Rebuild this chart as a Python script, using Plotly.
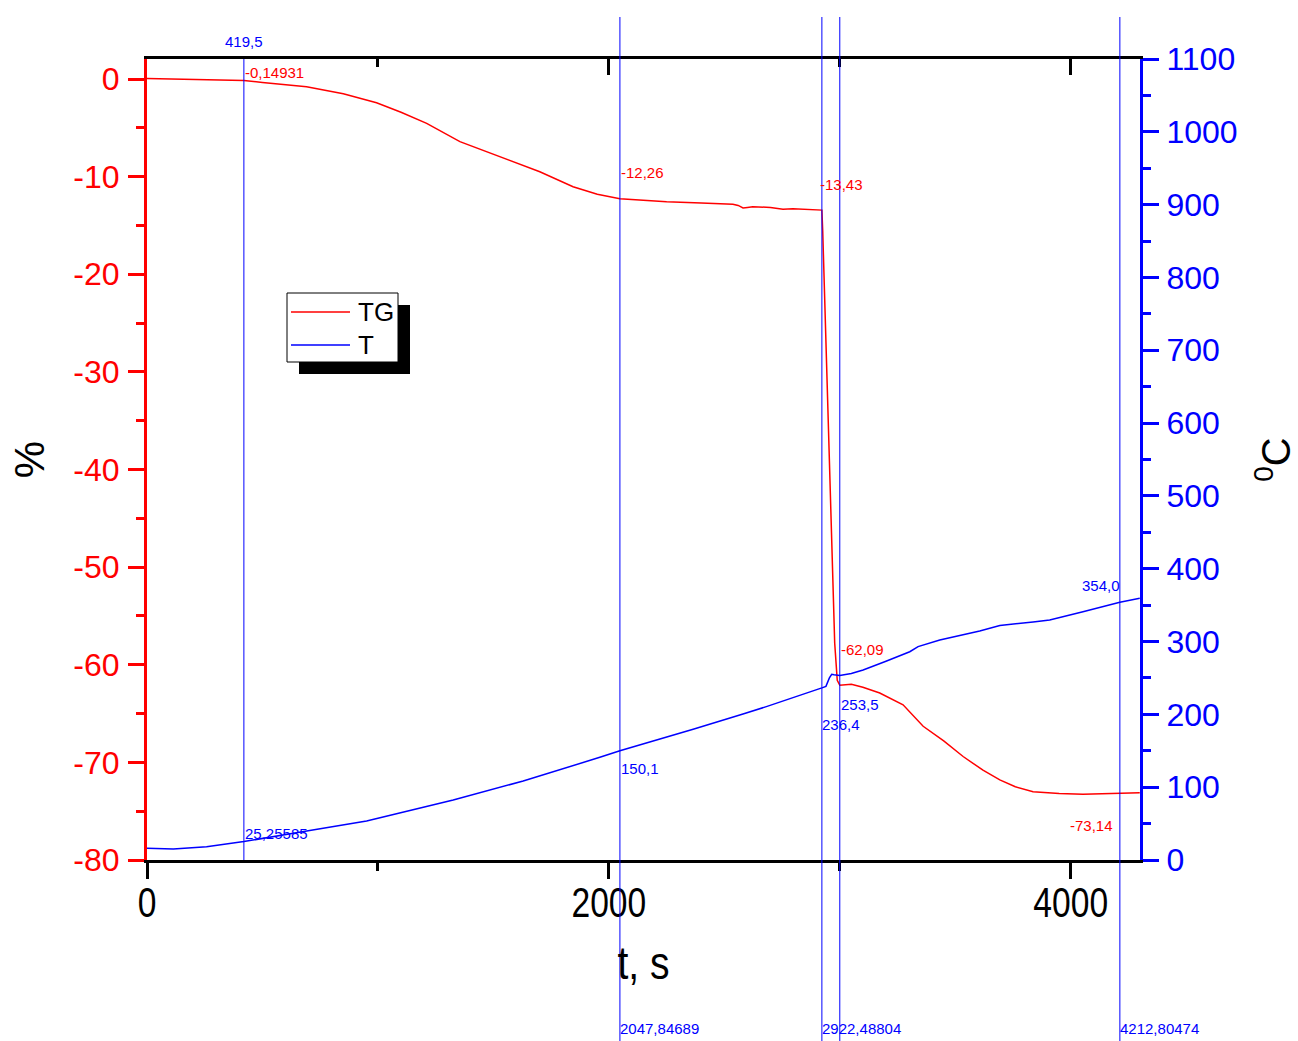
import plotly.graph_objects as go

# ---------------- data ----------------
tg_t = [0, 200, 419.5, 500, 691, 850, 994, 1100, 1211, 1355, 1485, 1600, 1701, 1845, 1950,
        2047.84689, 2250, 2400, 2537, 2560, 2581, 2600, 2623, 2700, 2754, 2797, 2870, 2922.48804,
        2926, 2950, 2968, 2978, 2989, 3000, 3050, 3100, 3173, 3274, 3361, 3450, 3534, 3620,
        3693, 3760, 3837, 3950, 4053, 4150, 4212.80474, 4299]
tg_v = [0.05, -0.05, -0.14931, -0.35, -0.79, -1.5, -2.43, -3.4, -4.54, -6.42, -7.6, -8.6, -9.5, -11.03, -11.8,
        -12.26, -12.56, -12.7, -12.83, -12.95, -13.2, -13.15, -13.08, -13.15, -13.35, -13.28, -13.38, -13.43,
        -15.5, -35.0, -49.3, -57.8, -61.6, -62.09, -62.0, -62.3, -62.9, -64.1, -66.3, -67.8, -69.4, -70.8,
        -71.8, -72.5, -73.0, -73.2, -73.27, -73.2, -73.14, -73.1]

t_t = [0, 114, 258, 419.5, 698, 951, 1009, 1268, 1326, 1629, 1874, 1961, 2047.84689, 2235, 2365, 2581,
       2682, 2922.48804, 2940, 2955, 2965, 2975, 2990, 3000, 3050, 3101, 3200, 3303, 3339, 3433, 3606,
       3693, 3837, 3909, 4053, 4212.80474, 4299]
t_v = [16, 15.1, 18.3, 25.25585, 40.3, 53.6, 58, 78.7, 82.4, 108.5, 131.9, 141, 150.1, 167, 179.5, 200.5,
       210.6, 236.4, 238.5, 250, 255, 254.5, 253.8, 253.5, 256, 261, 273, 286, 293, 302, 314.6,
       321.9, 327, 329.7, 341, 354.0, 359.5]

cursor_t = [419.5, 2047.84689, 2922.48804, 3000, 4212.80474]
cursor_tg = [-0.14931, -12.26, -13.43, -62.09, -73.14]
cursor_T = [25.25585, 150.1, 236.4, 253.5, 354.0]

series_names = ['TG', 'T']
x_ticks = [0, 2000, 4000]
y_left_ticks = [0, -10, -20, -30, -40, -50, -60, -70, -80]
y_right_ticks = list(range(0, 1101, 100))


def fmt(v):
    return str(v).replace('.', ',')


RED = '#ff0000'
BLUE = '#0000ff'
ARIAL = 'Liberation Sans, Arial, sans-serif'

fig = go.Figure()
fig.add_trace(go.Scatter(x=tg_t, y=tg_v, mode='lines', name=series_names[0],
                         line=dict(color=RED, width=1.5), yaxis='y', xaxis='x'))
fig.add_trace(go.Scatter(x=t_t, y=t_v, mode='lines', name=series_names[1],
                         line=dict(color=BLUE, width=1.5), yaxis='y2', xaxis='x'))
fig.add_trace(go.Scatter(x=[None], y=[None], xaxis='x2', yaxis='y', showlegend=False, hoverinfo='skip'))


def px(pix):
    return (pix - 147) / 993.0


def py(pix):
    return (860 - pix) / 801.0


# cursor lines
shapes = []
for i, t in enumerate(cursor_t):
    if i == 0:
        y0, y1 = 0, 1
    else:
        y0, y1 = py(1041), py(17)
    shapes.append(dict(type='line', xref='x', yref='paper', x0=t, x1=t, y0=y0, y1=y1,
                       line=dict(color=BLUE, width=1), layer='above'))

# legend (shadow, box, samples)
shapes.append(dict(type='rect', xref='paper', yref='paper', x0=px(299), x1=px(410), y0=py(374), y1=py(305),
                   fillcolor='black', line=dict(width=0), layer='above'))
shapes.append(dict(type='rect', xref='paper', yref='paper', x0=px(287), x1=px(398), y0=py(362), y1=py(293),
                   fillcolor='white', line=dict(color='black', width=1), layer='above'))
for yy, col in ((312, RED), (345, BLUE)):
    shapes.append(dict(type='line', xref='paper', yref='paper', x0=px(291), x1=px(350), y0=py(yy), y1=py(yy),
                       line=dict(color=col, width=1.5), layer='above'))

ann = []
fs = 15
ann.append(dict(x=cursor_t[0], y=py(42), text=fmt(cursor_t[0]), xanchor='center'))
for i in (1, 2, 4):
    ann.append(dict(x=cursor_t[i], y=py(1028), text=fmt(cursor_t[i]), xanchor='left', xshift=-1))
ann.append(dict(x=cursor_t[0], y=py(72), text=fmt(cursor_tg[0]), xanchor='left', color=RED))
ann.append(dict(x=cursor_t[1], y=py(172), text=fmt(cursor_tg[1]), xanchor='left', color=RED))
ann.append(dict(x=cursor_t[2], y=py(184), text=fmt(cursor_tg[2]), xanchor='left', xshift=-3, color=RED))
ann.append(dict(x=cursor_t[3], y=py(649), text=fmt(cursor_tg[3]), xanchor='left', color=RED))
ann.append(dict(x=cursor_t[4], y=py(825), text=fmt(cursor_tg[4]), xanchor='right', xshift=-6, color=RED))
ann.append(dict(x=cursor_t[0], y=py(833), text=fmt(cursor_T[0]), xanchor='left'))
ann.append(dict(x=cursor_t[1], y=py(768), text=fmt(cursor_T[1]), xanchor='left'))
ann.append(dict(x=cursor_t[2], y=py(724), text=fmt(cursor_T[2]), xanchor='left', xshift=-1))
ann.append(dict(x=cursor_t[3], y=py(704), text=fmt(cursor_T[3]), xanchor='left'))
ann.append(dict(x=cursor_t[4], y=py(585), text=fmt(cursor_T[4]), xanchor='right', xshift=1))

annotations = []
for a in ann:
    col = a.pop('color', BLUE)
    a.update(xref='x', yref='paper', yanchor='middle', showarrow=False,
             font=dict(family=ARIAL, size=fs, color=col), borderpad=0)
    annotations.append(a)

# legend texts
for name, yy in zip(series_names, (312, 345)):
    annotations.append(dict(xref='paper', yref='paper', x=px(357), y=py(yy), text=name,
                            xanchor='left', yanchor='middle', showarrow=False, borderpad=0,
                            font=dict(family=ARIAL, size=26, color='black')))

fig.update_layout(
    width=1298, height=1041,
    margin=dict(l=147, r=158, t=59, b=181, pad=0, autoexpand=False),
    paper_bgcolor='white', plot_bgcolor='white',
    showlegend=False,
    xaxis=dict(range=[0, 4300], tickvals=x_ticks, ticktext=[str(v) for v in x_ticks], automargin=False,
               ticks='outside', ticklen=16, tickwidth=3, tickcolor='black',
               showline=True, linewidth=3, linecolor='black', showgrid=False, zeroline=False,
               minor=dict(dtick=1000, tick0=0, ticks='outside', ticklen=8, tickwidth=3, tickcolor='black', showgrid=False),
               tickfont=dict(family=ARIAL, size=42, color='black'), ticklabelstandoff=-12,
               title=dict(text='t, s', font=dict(family=ARIAL, size=46, color='black'), standoff=22)),
    xaxis2=dict(range=[0, 4300], overlaying='x', side='top', anchor='y', automargin=False,
                tickvals=x_ticks, showticklabels=False,
                ticks='inside', ticklen=16, tickwidth=3, tickcolor='black',
                showline=True, linewidth=3, linecolor='black', showgrid=False, zeroline=False,
                minor=dict(dtick=1000, tick0=0, ticks='inside', ticklen=8, tickwidth=3, tickcolor='black', showgrid=False)),
    yaxis=dict(range=[-80, 2.05], tickvals=y_left_ticks, ticktext=[str(v) for v in y_left_ticks], automargin=False,
               ticks='outside', ticklen=16, tickwidth=3, tickcolor=RED,
               showline=True, linewidth=3, linecolor=RED, showgrid=False, zeroline=False,
               minor=dict(dtick=5, tick0=0, ticks='outside', ticklen=8, tickwidth=3, tickcolor=RED, showgrid=False),
               tickfont=dict(family=ARIAL, size=32, color=RED), ticklabelstandoff=2,
               title=dict(text='%', font=dict(family=ARIAL, size=42, color='black'), standoff=16)),
    yaxis2=dict(range=[0, 1100], overlaying='y', side='right', anchor='x', automargin=False,
                tickvals=y_right_ticks, ticktext=[str(v) for v in y_right_ticks],
                ticks='outside', ticklen=16, tickwidth=3, tickcolor=BLUE,
                showline=True, linewidth=3, linecolor=BLUE, showgrid=False, zeroline=False,
                minor=dict(dtick=50, tick0=0, ticks='outside', ticklen=8, tickwidth=3, tickcolor=BLUE, showgrid=False),
                tickfont=dict(family=ARIAL, size=32, color=BLUE), ticklabelstandoff=1,
                title=dict(text='<sup>0</sup>C', font=dict(family=ARIAL, size=40, color='black'), standoff=33)),
    shapes=shapes,
    annotations=annotations,
)

post = """
document.documentElement.style.overflow='hidden';
document.body.style.margin='0';
document.body.style.overflow='hidden';
(function(){
  var gd = document.getElementById('{plot_id}');
  function squeeze(sel, k){
    gd.querySelectorAll(sel).forEach(function(t){
      var x = parseFloat(t.getAttribute('x')) || 0;
      var tr = t.getAttribute('transform') || '';
      t.setAttribute('transform', tr + ' translate(' + x + ',0) scale(' + k + ',1) translate(' + (-x) + ',0)');
    });
  }
  squeeze('.xtick text', 0.8);
  squeeze('.xtitle', 0.85);
})();
"""

fig.write_html("out.html", post_script=post, config={'displayModeBar': False})
